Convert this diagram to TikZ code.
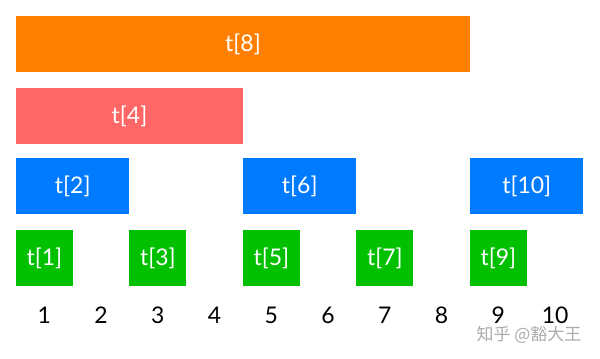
\documentclass[tikz,border=0pt]{standalone}
\usepackage{fontspec}
\setmainfont{Lato}
\newfontfamily\cjk{Noto Sans CJK SC}
\definecolor{treeorange}{RGB}{255,128,0}
\definecolor{treered}{RGB}{255,102,102}
\definecolor{treeblue}{RGB}{0,122,255}
\definecolor{treegreen}{RGB}{0,192,0}
\begin{document}
\begin{tikzpicture}[x=1cm,y=1cm,
    tbox/.style={minimum height=0.987cm,inner sep=0pt,text=white,font=\fontsize{11.5}{13}\selectfont},
    idx/.style={inner sep=0pt,font=\fontsize{11.5}{13}\selectfont}]
  \useasboundingbox (0,0) rectangle (10.573,-6.326);
  % level 4
  \node[tbox,fill=treeorange,minimum width=8cm] (t8) at (4.282,-0.775) {t[8]};
  % level 3
  \node[tbox,fill=treered,minimum width=4cm] (t4) at (2.282,-2.044) {t[4]};
  % level 2
  \node[tbox,fill=treeblue,minimum width=2cm] (t2) at (1.282,-3.278) {t[2]};
  \node[tbox,fill=treeblue,minimum width=2cm] (t6) at (5.282,-3.278) {t[6]};
  \node[tbox,fill=treeblue,minimum width=2cm] (t10) at (9.282,-3.278) {t[10]};
  % level 1
  \foreach \i in {1,3,5,7,9}
    \node[tbox,fill=treegreen,minimum width=1cm] (t\i) at (\i-0.218,-4.546) {t[\i]};
  % indices
  \foreach \i in {1,...,10}
    \node[idx] (n\i) at (\i-0.218,-5.551) {\i};
  \node[inner sep=0pt,text=black!33,font=\cjk\fontsize{8.5}{10}\selectfont] (mark) at (9.322,-5.90) {知乎 @豁大王};
\end{tikzpicture}
\end{document}
